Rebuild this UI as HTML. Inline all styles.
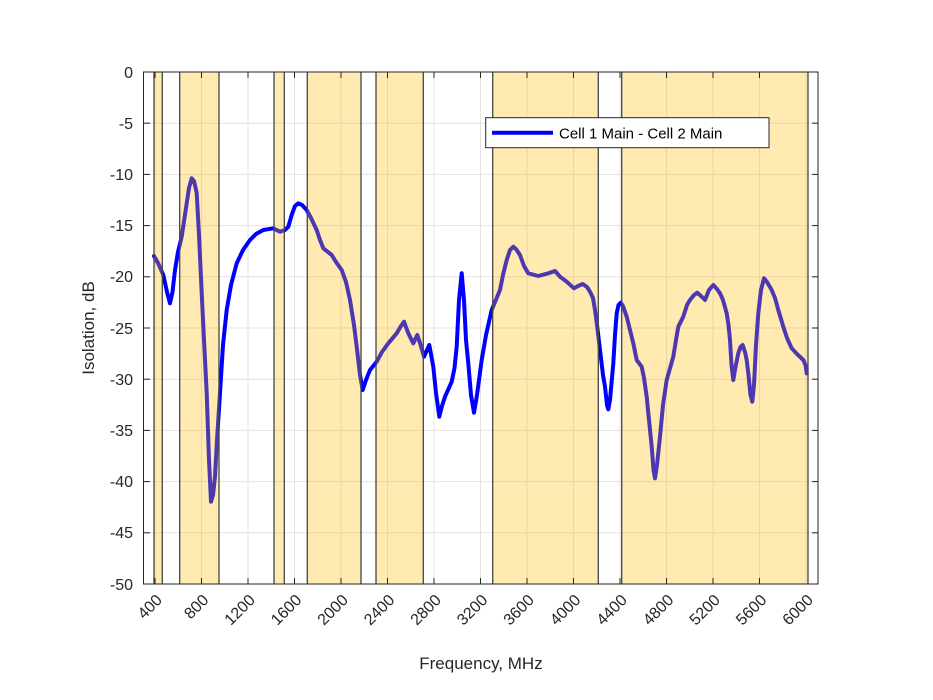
<!DOCTYPE html>
<html><head><meta charset="utf-8"><style>body{margin:0;background:#fff}svg{display:block}</style></head>
<body>
<svg width="933" height="700" xmlns="http://www.w3.org/2000/svg" font-family="Liberation Sans, Arial, sans-serif">
<rect width="933" height="700" fill="#fff"/>
<g stroke="#e3e3e3" stroke-width="1">
<line x1="155" y1="72" x2="155" y2="584"/><line x1="201.5" y1="72" x2="201.5" y2="584"/><line x1="248" y1="72" x2="248" y2="584"/><line x1="294.5" y1="72" x2="294.5" y2="584"/><line x1="341" y1="72" x2="341" y2="584"/><line x1="387.5" y1="72" x2="387.5" y2="584"/><line x1="434" y1="72" x2="434" y2="584"/><line x1="480.5" y1="72" x2="480.5" y2="584"/><line x1="527" y1="72" x2="527" y2="584"/><line x1="573.5" y1="72" x2="573.5" y2="584"/><line x1="620" y1="72" x2="620" y2="584"/><line x1="666.5" y1="72" x2="666.5" y2="584"/><line x1="713" y1="72" x2="713" y2="584"/><line x1="759.5" y1="72" x2="759.5" y2="584"/><line x1="806" y1="72" x2="806" y2="584"/>
<line x1="143.5" y1="123.2" x2="818" y2="123.2"/><line x1="143.5" y1="174.4" x2="818" y2="174.4"/><line x1="143.5" y1="225.6" x2="818" y2="225.6"/><line x1="143.5" y1="276.8" x2="818" y2="276.8"/><line x1="143.5" y1="328" x2="818" y2="328"/><line x1="143.5" y1="379.2" x2="818" y2="379.2"/><line x1="143.5" y1="430.4" x2="818" y2="430.4"/><line x1="143.5" y1="481.6" x2="818" y2="481.6"/><line x1="143.5" y1="532.8" x2="818" y2="532.8"/>
</g>
<polyline fill="none" stroke="#0000ff" stroke-width="4" stroke-linejoin="round" stroke-linecap="round" points="154,256 158,263 163.3,275 167,292 170,303.3 172.5,292 175,270 178,252 181.7,236.7 186,208 189,188 191.7,178.3 194,181 196.7,193 199,235 201.7,293 204,340 206.7,393 209,460 211,501.7 213,495 215,476.7 217,440 220,393 223,345 226.7,310 231,285 236.7,263.3 243,250 250,240 256,234 263.3,230 273.3,228.3 280,231.7 285,230 288.3,226.7 292,214 295,206 298.3,203.3 302,205 306.7,210 311,218 316.7,230 320,240 323.3,248.3 331.7,255 336,262 341.7,270 346,282 350,300 354,325 356.7,346.7 360,375 362.7,390 366,380 370,370 376.7,361.7 382,352 388.3,343.3 396.7,333.3 401,326 404,321.7 408.3,333.3 413.3,343.3 417.3,335 420,343 424,356.7 429.3,345 433.3,366.7 436,393 439.3,416.7 442,406 445,396.7 451.7,381.7 454.5,368 456.7,346.7 459,300 461.7,273.3 464,300 466,340 468.3,363.3 471,395 474,412.7 477,395 481.7,360 486,335 491.7,310 500,290 503,275 506.7,260 510,250 513.3,246.7 516,249 520,255 524,266 528.3,273.3 538.3,276 548.3,273.3 555,271 560,276.7 566.7,281.7 574,288.3 578,286 582.7,284 587,287 590,291.7 593,298 595,310 597,325 600,350 603,375 605,386.7 607,405 608.3,409.3 610,400 613.3,363.3 615,335 616.7,313.3 618.5,305 620.7,302.7 623,306 626.7,316.7 633.3,343.3 636.7,360 641.7,366.7 644,378 646.7,396.7 649,420 651.7,446.7 653.5,470 655,478.3 657,465 660,436.7 663,405 666.7,380 673.3,356.7 676,340 678.3,326.7 683.3,316.7 687,305 690,300 694,295 697.3,292.7 701,296 705,300 709,290 713.3,285 717,289 720,293.3 723,300 726.7,313.3 728.5,325 730,340 731.5,365 733.3,380 735.5,367 738.3,353.3 740.5,347 742.7,345 745,352 746.7,360 748.5,375 750.5,395 752.3,401.7 754,385 756,345 758.3,313.3 761,290 764,278.3 767,282 771.7,290 775,298 778.3,310 783.3,326.7 787,338 791.7,348.3 797,354 803.3,360 805.5,365 806.7,373.3"/>
<g fill="rgb(255,185,0)" fill-opacity="0.3">
<rect x="154" y="72" width="8.3" height="512"/><rect x="179.7" y="72" width="39.3" height="512"/><rect x="274" y="72" width="10.3" height="512"/><rect x="307.3" y="72" width="53.7" height="512"/><rect x="376" y="72" width="47.3" height="512"/><rect x="492.7" y="72" width="105.6" height="512"/><rect x="621.7" y="72" width="186.3" height="512"/>
</g>
<g stroke="#444" stroke-width="1.3">
<line x1="154" y1="72" x2="154" y2="584"/><line x1="162.3" y1="72" x2="162.3" y2="584"/><line x1="179.7" y1="72" x2="179.7" y2="584"/><line x1="219" y1="72" x2="219" y2="584"/><line x1="274" y1="72" x2="274" y2="584"/><line x1="284.3" y1="72" x2="284.3" y2="584"/><line x1="307.3" y1="72" x2="307.3" y2="584"/><line x1="361" y1="72" x2="361" y2="584"/><line x1="376" y1="72" x2="376" y2="584"/><line x1="423.3" y1="72" x2="423.3" y2="584"/><line x1="492.7" y1="72" x2="492.7" y2="584"/><line x1="598.3" y1="72" x2="598.3" y2="584"/><line x1="621.7" y1="72" x2="621.7" y2="584"/><line x1="808" y1="72" x2="808" y2="584"/>
</g>
<rect x="143.5" y="72" width="674.5" height="512" fill="none" stroke="#262626" stroke-width="1"/>
<g stroke="#262626" stroke-width="1">
<line x1="143.5" y1="123.2" x2="150" y2="123.2"/><line x1="143.5" y1="174.4" x2="150" y2="174.4"/><line x1="143.5" y1="225.6" x2="150" y2="225.6"/><line x1="143.5" y1="276.8" x2="150" y2="276.8"/><line x1="143.5" y1="328" x2="150" y2="328"/><line x1="143.5" y1="379.2" x2="150" y2="379.2"/><line x1="143.5" y1="430.4" x2="150" y2="430.4"/><line x1="143.5" y1="481.6" x2="150" y2="481.6"/><line x1="143.5" y1="532.8" x2="150" y2="532.8"/>
<line x1="812" y1="123.2" x2="818" y2="123.2"/><line x1="812" y1="174.4" x2="818" y2="174.4"/><line x1="812" y1="225.6" x2="818" y2="225.6"/><line x1="812" y1="276.8" x2="818" y2="276.8"/><line x1="812" y1="328" x2="818" y2="328"/><line x1="812" y1="379.2" x2="818" y2="379.2"/><line x1="812" y1="430.4" x2="818" y2="430.4"/><line x1="812" y1="481.6" x2="818" y2="481.6"/><line x1="812" y1="532.8" x2="818" y2="532.8"/>
</g>
<g stroke="#262626" stroke-width="1">
<line x1="155" y1="72" x2="155" y2="78"/><line x1="201.5" y1="72" x2="201.5" y2="78"/><line x1="248" y1="72" x2="248" y2="78"/><line x1="294.5" y1="72" x2="294.5" y2="78"/><line x1="341" y1="72" x2="341" y2="78"/><line x1="387.5" y1="72" x2="387.5" y2="78"/><line x1="434" y1="72" x2="434" y2="78"/><line x1="480.5" y1="72" x2="480.5" y2="78"/><line x1="527" y1="72" x2="527" y2="78"/><line x1="573.5" y1="72" x2="573.5" y2="78"/><line x1="620" y1="72" x2="620" y2="78"/><line x1="666.5" y1="72" x2="666.5" y2="78"/><line x1="713" y1="72" x2="713" y2="78"/><line x1="759.5" y1="72" x2="759.5" y2="78"/>
<line x1="155" y1="578" x2="155" y2="584"/><line x1="201.5" y1="578" x2="201.5" y2="584"/><line x1="248" y1="578" x2="248" y2="584"/><line x1="294.5" y1="578" x2="294.5" y2="584"/><line x1="341" y1="578" x2="341" y2="584"/><line x1="387.5" y1="578" x2="387.5" y2="584"/><line x1="434" y1="578" x2="434" y2="584"/><line x1="480.5" y1="578" x2="480.5" y2="584"/><line x1="527" y1="578" x2="527" y2="584"/><line x1="573.5" y1="578" x2="573.5" y2="584"/><line x1="620" y1="578" x2="620" y2="584"/><line x1="666.5" y1="578" x2="666.5" y2="584"/><line x1="713" y1="578" x2="713" y2="584"/><line x1="759.5" y1="578" x2="759.5" y2="584"/>
</g>
<g font-size="16" fill="#262626" text-anchor="end">
<text x="133" y="78">0</text><text x="133" y="129">-5</text><text x="133" y="180">-10</text><text x="133" y="231">-15</text><text x="133" y="282">-20</text><text x="133" y="334">-25</text><text x="133" y="385">-30</text><text x="133" y="436">-35</text><text x="133" y="487">-40</text><text x="133" y="538">-45</text><text x="133" y="590">-50</text>
<text transform="translate(163,601) rotate(-45)">400</text><text transform="translate(209.5,601) rotate(-45)">800</text><text transform="translate(256,601) rotate(-45)">1200</text><text transform="translate(302.5,601) rotate(-45)">1600</text><text transform="translate(349,601) rotate(-45)">2000</text><text transform="translate(395.5,601) rotate(-45)">2400</text><text transform="translate(442,601) rotate(-45)">2800</text><text transform="translate(488.5,601) rotate(-45)">3200</text><text transform="translate(535,601) rotate(-45)">3600</text><text transform="translate(581.5,601) rotate(-45)">4000</text><text transform="translate(628,601) rotate(-45)">4400</text><text transform="translate(674.5,601) rotate(-45)">4800</text><text transform="translate(721,601) rotate(-45)">5200</text><text transform="translate(767.5,601) rotate(-45)">5600</text><text transform="translate(814,601) rotate(-45)">6000</text>
</g>
<text x="481" y="669" font-size="17" fill="#262626" text-anchor="middle">Frequency, MHz</text>
<text transform="translate(94,328) rotate(-90)" font-size="17" fill="#262626" text-anchor="middle">Isolation, dB</text>
<rect x="485.7" y="117.7" width="283.3" height="30" fill="#fff" stroke="#262626" stroke-width="1"/>
<line x1="492" y1="132.7" x2="553" y2="132.7" stroke="#0000ff" stroke-width="4"/>
<text x="559" y="138.5" font-size="15" fill="#000">Cell 1 Main - Cell 2 Main</text>
</svg>
</body></html>
